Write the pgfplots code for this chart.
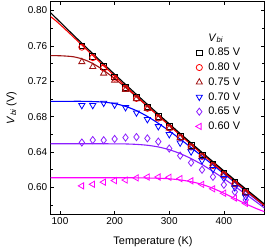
\documentclass[border=0pt]{standalone}
\usepackage{fontspec}
\setmainfont{Liberation Sans}
\usepackage{pgfplots}
\pgfplotsset{compat=1.18}
\definecolor{cred}{RGB}{255,0,0}
\definecolor{cdred}{RGB}{160,20,20}
\definecolor{cblue}{RGB}{0,0,255}
\definecolor{cpur}{RGB}{140,30,255}
\definecolor{cmag}{RGB}{255,0,255}
\begin{document}
\begin{tikzpicture}
\begin{axis}[
  scale only axis, width=213.6bp, height=212.3bp,
  xmin=83, xmax=474, ymin=0.57, ymax=0.81,
  xtick={100,200,300,400},
  ytick={0.60,0.64,0.68,0.72,0.76,0.80},
  minor ytick={0.58,0.62,0.66,0.70,0.74,0.78},
  yticklabel style={/pgf/number format/.cd, fixed, fixed zerofill, precision=2},
  /pgf/number format/assume math mode=true,
  tick align=inside, major tick length=3.5bp, minor tick length=2bp,
  xtick pos=both, ytick pos=both,
  tick label style={font=\fontsize{10}{11}\selectfont},
  axis line style={line width=0.6pt},
  tick style={line width=0.6pt, black},
  xlabel={Temperature (K)},
  ylabel={\textit{V}\textsubscript{\textit{bi}} (V)},
  label style={font=\fontsize{11}{13}\selectfont},
  xlabel style={at={(axis description cs:0.479,-0.1305)}, anchor=center},
  ylabel style={at={(axis description cs:-0.183,0.5)}, anchor=center},
  legend style={draw=none, fill=none, at={(axis description cs:0.655,0.86)}, anchor=north west,
    font=\fontsize{11}{13}\selectfont, row sep=1.6pt, inner sep=0pt,
    /tikz/every odd column/.append style={column sep=4pt}},
  legend cell align=left,
  every axis plot/.append style={line width=0.8pt},
  mark size=3pt,
]
\coordinate (sw) at (rel axis cs:0,0);
\coordinate (ne) at (rel axis cs:1,1);
% curves
\addplot[cmag, line width=1.1pt, smooth, forget plot] coordinates {
(80,0.6110)(120,0.6110)(160,0.6110)(200,0.6110)(220,0.6110)(240,0.6109)(260,0.6107)(280,0.6104)(300,0.6098)(320,0.6085)(340,0.6065)(360,0.6035)(380,0.5990)(400,0.5935)(420,0.5875)(440,0.5815)(460,0.5760)(475,0.5725)};
\addplot[cpur, line width=1.1pt, smooth, forget plot] coordinates {
(80,0.6494)(120,0.6494)(160,0.6494)(180,0.6494)(200,0.6493)(220,0.6492)(240,0.6487)(260,0.6477)(280,0.6458)(300,0.6427)(320,0.6383)(340,0.6326)(360,0.6259)(380,0.6182)(400,0.6100)(420,0.6013)(440,0.5924)(460,0.5833)(475,0.5764)};
\addplot[cblue, line width=1.1pt, smooth, forget plot] coordinates {
(80,0.6974)(100,0.6974)(120,0.6974)(140,0.6974)(160,0.6971)(180,0.6965)(200,0.6948)(220,0.6917)(240,0.6868)(260,0.6803)(280,0.6725)(300,0.6639)(320,0.6547)(340,0.6451)(360,0.6353)(380,0.6255)(400,0.6156)(420,0.6057)(440,0.5958)(460,0.5860)(475,0.5787)};
\addplot[cdred, line width=1.1pt, smooth, forget plot] coordinates {
(80,0.7490)(100,0.7489)(120,0.7481)(130,0.7471)(140,0.7454)(150,0.7431)(160,0.7401)(170,0.7365)(180,0.7324)(200,0.7231)(220,0.7130)(240,0.7025)(260,0.6918)(280,0.6811)(300,0.6704)(320,0.6597)(340,0.6491)(360,0.6386)(380,0.6282)(400,0.6178)(420,0.6076)(440,0.5975)(460,0.5875)(475,0.5801)};
\addplot[cred, line width=1.1pt, smooth, forget plot] coordinates {
(80,0.7944)(90,0.7897)(100,0.7843)(120,0.7728)(140,0.7610)(160,0.7493)(180,0.7376)(200,0.7261)(220,0.7146)(240,0.7033)(260,0.6921)(280,0.6810)(300,0.6701)(320,0.6592)(340,0.6485)(360,0.6379)(380,0.6274)(400,0.6170)(420,0.6067)(440,0.5966)(460,0.5866)(475,0.5791)};
\addplot[black, line width=1.1pt, smooth, forget plot] coordinates {
(80,0.7993)(100,0.7871)(120,0.7750)(140,0.7631)(160,0.7513)(180,0.7396)(200,0.7280)(220,0.7165)(240,0.7052)(260,0.6940)(280,0.6829)(300,0.6719)(320,0.6610)(340,0.6503)(360,0.6397)(380,0.6292)(400,0.6188)(420,0.6085)(440,0.5984)(460,0.5884)(475,0.5809)};
% legend title
\addlegendimage{empty legend}
\addlegendentry{\textit{V}\textsubscript{\textit{bi}}}
% data
\addplot[only marks, mark=square, black, mark size=2.9pt] coordinates {
(140,0.7601)(160,0.7483)(180,0.7366)(200,0.7250)(220,0.7135)(240,0.7022)(260,0.6910)(280,0.6799)(300,0.6689)(320,0.6580)(340,0.6473)(360,0.6367)(380,0.6262)(400,0.6158)(420,0.6055)(440,0.5954)};
\addlegendentry{0.85 V}
\addplot[only marks, mark=o, cred, mark size=3.1pt] coordinates {
(140,0.7586)(160,0.7468)(180,0.7351)(200,0.7235)(220,0.7120)(240,0.7007)(260,0.6895)(280,0.6784)(300,0.6674)(320,0.6565)(340,0.6458)(360,0.6352)(380,0.6247)(400,0.6143)(420,0.6040)(440,0.5939)};
\addlegendentry{0.80 V}
\addplot[only marks, mark=triangle, cdred, mark size=3.6pt] coordinates {
(140,0.7420)(160,0.7365)(180,0.7290)(200,0.7210)(220,0.7105)(240,0.7002)(260,0.6890)(280,0.6779)(300,0.6669)(320,0.6560)(340,0.6453)(360,0.6347)(380,0.6242)(400,0.6138)(420,0.6035)(440,0.5934)};
\addlegendentry{0.75 V}
\addplot[only marks, mark=triangle, mark options={rotate=180}, cblue, mark size=3.6pt] coordinates {
(140,0.6929)(160,0.6929)(180,0.6955)(200,0.6935)(220,0.6905)(240,0.6845)(260,0.6770)(280,0.6690)(300,0.6600)(320,0.6505)(340,0.6405)(360,0.6305)(380,0.6205)(400,0.6105)(420,0.6000)(440,0.5895)};
\addlegendentry{0.70 V}
\addplot[only marks, mark=diamond, cpur, mark size=3.6pt] coordinates {
(140,0.6508)(160,0.6536)(180,0.6534)(200,0.6548)(220,0.6564)(240,0.6570)(260,0.6555)(280,0.6518)(300,0.6440)(320,0.6360)(340,0.6280)(360,0.6200)(380,0.6120)(400,0.6030)(420,0.5950)(440,0.5860)};
\addlegendentry{0.65 V}
\addplot[only marks, mark=triangle, mark options={rotate=90}, cmag, mark size=3.6pt] coordinates {
(140,0.6018)(160,0.6036)(180,0.6060)(200,0.6078)(220,0.6084)(240,0.6108)(260,0.6118)(280,0.6118)(300,0.6115)(320,0.6100)(340,0.6075)(360,0.6035)(380,0.5985)(400,0.5935)(420,0.5880)(440,0.5820)};
\addlegendentry{0.60 V}
\end{axis}
\pgfresetboundingbox
\path[use as bounding box] ([shift={(-50.7bp,-36bp)}]sw) rectangle ([shift={(1.7bp,1.7bp)}]ne);
\end{tikzpicture}
\end{document}
